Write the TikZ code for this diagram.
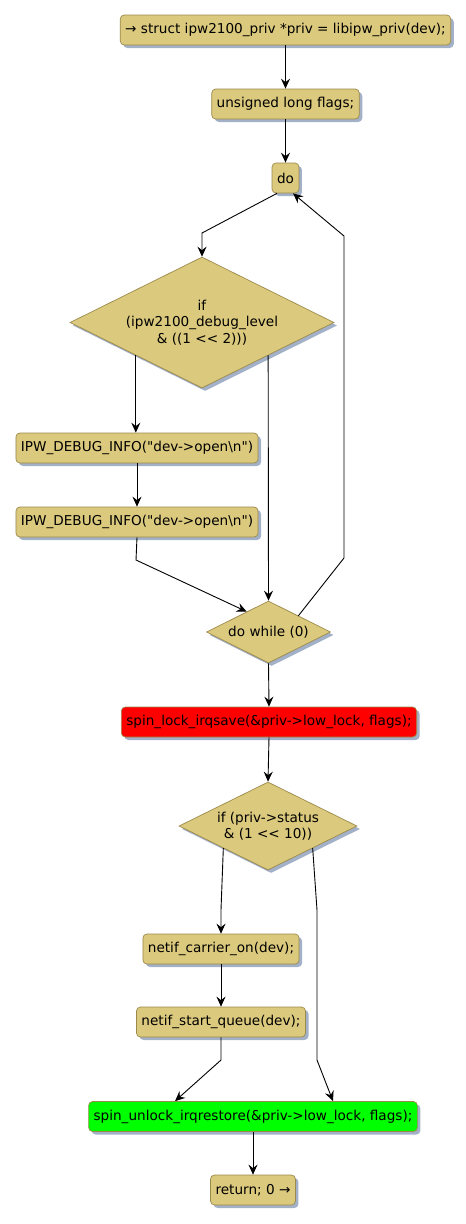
\documentclass[tikz,border=0pt]{standalone}
\usepackage{fontspec}
\setmainfont{DejaVu Sans}[Ligatures=TeXOff]
\usetikzlibrary{arrows.meta,shapes.geometric,shadows,calc}
\definecolor{tan}{HTML}{DBC97D}
\definecolor{tanborder}{HTML}{9C8A4C}
\definecolor{shadowc}{HTML}{A2B0C8}
\tikzset{
  shad/.style={drop shadow={shadow xshift=3pt,shadow yshift=-3pt,fill=shadowc,opacity=1}},
  act/.style={rectangle,rounded corners=4pt,draw=tanborder,fill=tan,line width=0.7pt,
    minimum height=30pt,inner xsep=5pt,inner ysep=0pt,font=\fontsize{13.6}{16}\selectfont,shad},
  dia/.style={diamond,draw=tanborder,fill=tan,line width=0.7pt,inner sep=0pt,shad},
  diatext/.style={align=center,inner sep=0pt,font=\fontsize{13.6}{16.5}\selectfont},
  arr/.style={draw=black,line width=0.9pt,-{Stealth[length=10pt,width=9pt,inset=3.5pt]}},
}
\begin{document}
\begin{tikzpicture}[x=1pt,y=-1pt]
\useasboundingbox (0,0) rectangle (466,1224);
\node[act] (n1) at (285.5,30) {→ struct ipw2100\_priv *priv = libipw\_priv(dev);};
\node[act] (n2) at (285.5,104) {unsigned long flags;};
\node[act] (do) at (285.5,178) {do};
\node[dia,minimum width=264pt,minimum height=131pt] (d1) at (202,322.5) {};
\node[diatext] (d1t) at (202,322.5) {if\\(ipw2100\_debug\_level\\\& ((1 << 2)))};
\node[act] (i1) at (137,448) {IPW\_DEBUG\_INFO("dev->open\textbackslash n")};
\node[act] (i2) at (137,522) {IPW\_DEBUG\_INFO("dev->open\textbackslash n")};
\node[dia,minimum width=124pt,minimum height=62pt] (dw) at (268.5,632) {};
\node[diatext] (dwt) at (268.5,632) {do while (0)};
\node[act,fill=red] (red) at (269,722) {spin\_lock\_irqsave(\&priv->low\_lock, flags);};
\node[dia,minimum width=178pt,minimum height=88pt] (d2) at (268,826) {};
\node[diatext] (d2t) at (268,826) {if (priv->status\\\& (1 << 10))};
\node[act] (c1) at (221,949) {netif\_carrier\_on(dev);};
\node[act] (c2) at (221,1022) {netif\_start\_queue(dev);};
\node[act,fill=green] (gr) at (253,1116.5) {spin\_unlock\_irqrestore(\&priv->low\_lock, flags);};
\node[act] (ret) at (253,1190) {return; 0 →};

\draw[arr] (n1.south) -- (n2.north);
\draw[arr] (n2.south) -- (do.north);
\draw[arr] ([xshift=-8.5pt]do.south) -- (202,233) -- (d1.north);
\draw[arr] (d1.south west) -- (i1.north -| d1.south west);
\draw[arr] (i1.south) -- (i2.north);
\draw[arr] (i2.south) -- (136,560) -- ($(dw.west)!0.65!(dw.north)$);
\draw[arr] (d1.south east) -- (dw.north);
\draw[arr] ($(dw.north)!0.48!(dw.east)$) -- (344,558) -- (344,236) -- ([xshift=7.5pt]do.south);
\draw[arr] (dw.south) -- (red.north);
\draw[arr] (red.south) -- (d2.north);
\draw[arr] (d2.south west) -- (221,910) -- (c1.north);
\draw[arr] (c1.south) -- (c2.north);
\draw[arr] (c2.south) -- (221,1060) -- ([xshift=-78pt]gr.north);
\draw[arr] (d2.south east) -- (317,910) -- (317,1060) -- ([xshift=80pt]gr.north);
\draw[arr] (gr.south) -- (ret.north);
\end{tikzpicture}
\end{document}
